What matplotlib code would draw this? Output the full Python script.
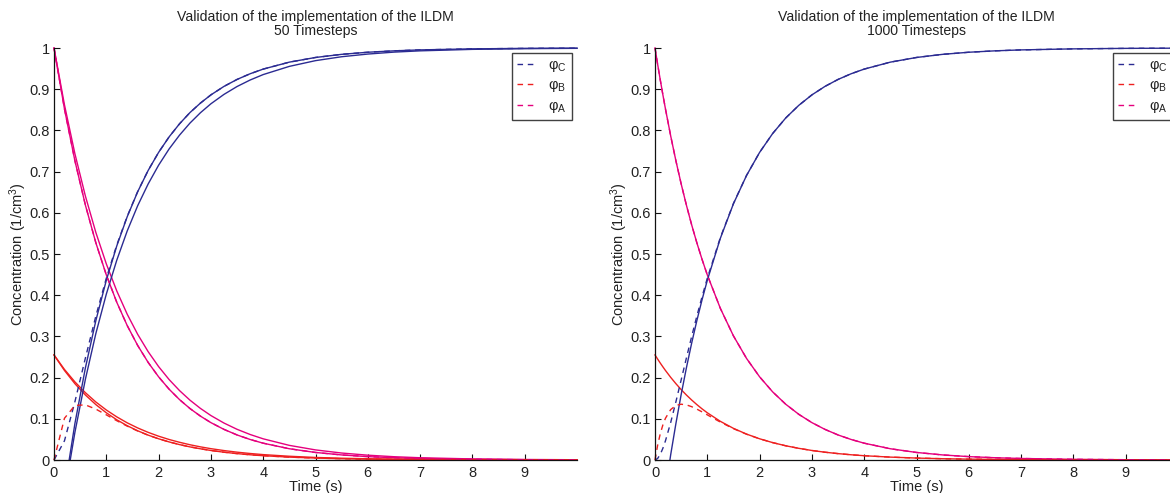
import matplotlib
matplotlib.use("Agg")
import matplotlib.pyplot as plt
from matplotlib.lines import Line2D

plt.rcParams['font.family'] = ['Liberation Sans', 'DejaVu Sans']
plt.rcParams['mathtext.default'] = 'regular'

# ---------------- data: 50 timesteps (left) ----------------
TL = [0, 0.2, 0.4, 0.6, 0.8, 1.0, 1.2, 1.4, 1.6, 1.8, 2.0, 2.2, 2.4, 2.6, 2.8, 3.0,
      3.25, 3.5, 3.75, 4.0, 4.5, 5, 5.5, 6, 6.5, 7, 8, 9, 10]
A1_L = [1, 0.8521, 0.7261, 0.6188, 0.5273, 0.4493, 0.3829, 0.3263, 0.2780, 0.2369, 0.2019,
        0.1720, 0.1466, 0.1249, 0.1065, 0.0907, 0.0743, 0.0608, 0.0498, 0.0408, 0.0273,
        0.0183, 0.0123, 0.0082, 0.0055, 0.0037, 0.0017, 0.0007, 0.0003]
A2_L = [1, 0.8621, 0.7432, 0.6407, 0.5523, 0.4761, 0.4104, 0.3538, 0.3050, 0.2630, 0.2267,
        0.1954, 0.1685, 0.1452, 0.1252, 0.1079, 0.0897, 0.0745, 0.0619, 0.0514, 0.0355,
        0.0245, 0.0169, 0.0117, 0.0080, 0.0055, 0.0026, 0.0013, 0.0006]
B1_L = [0.255, 0.2173, 0.1852, 0.1578, 0.1345, 0.1146, 0.0976, 0.0832, 0.0709, 0.0604, 0.0515,
        0.0439, 0.0374, 0.0318, 0.0272, 0.0231, 0.0189, 0.0155, 0.0127, 0.0104, 0.0070,
        0.0047, 0.0031, 0.0021, 0.0014, 0.0009, 0.0004, 0.0002, 0.0001]
B2_L = [0.255, 0.2198, 0.1895, 0.1634, 0.1408, 0.1214, 0.1047, 0.0902, 0.0778, 0.0671, 0.0578,
        0.0498, 0.0430, 0.0370, 0.0319, 0.0275, 0.0229, 0.0190, 0.0158, 0.0131, 0.0091,
        0.0062, 0.0043, 0.0030, 0.0020, 0.0014, 0.0007, 0.0003, 0.0002]
TC1_L = [0.29, 0.4, 0.6, 0.8, 1.0, 1.2, 1.4, 1.6, 1.8, 2.0, 2.2, 2.4, 2.6, 2.8, 3.0,
         3.25, 3.5, 3.75, 4.0, 4.5, 5, 5.5, 6, 6.5, 7, 8, 9, 10]
C1_L = [0, 0.0887, 0.2234, 0.3382, 0.4361, 0.5195, 0.5905, 0.6511, 0.7027, 0.7466, 0.7841,
        0.8160, 0.8433, 0.8663, 0.8862, 0.9068, 0.9237, 0.9375, 0.9488, 0.9657, 0.9770,
        0.9846, 0.9897, 0.9931, 0.9954, 0.9979, 0.9991, 0.9996]
TC2_L = [0.31, 0.4, 0.6, 0.8, 1.0, 1.2, 1.4, 1.6, 1.8, 2.0, 2.2, 2.4, 2.6, 2.8, 3.0,
         3.25, 3.5, 3.75, 4.0, 4.5, 5, 5.5, 6, 6.5, 7, 8, 9, 10]
C2_L = [0, 0.0673, 0.1959, 0.3069, 0.4025, 0.4849, 0.5560, 0.6172, 0.6699, 0.7155, 0.7548,
        0.7885, 0.8178, 0.8429, 0.8646, 0.8874, 0.9065, 0.9223, 0.9355, 0.9554, 0.9693,
        0.9788, 0.9853, 0.9900, 0.9931, 0.9967, 0.9984, 0.9992]
BX_L = [0, 0.1013, 0.1324, 0.1338, 0.1235, 0.1096, 0.0954, 0.0822, 0.0704, 0.0602, 0.0514,
        0.0439, 0.0374, 0.0318, 0.0272, 0.0231, 0.0189, 0.0155, 0.0127, 0.0104, 0.0070,
        0.0047, 0.0031, 0.0021, 0.0014, 0.0009, 0.0004, 0.0002, 0.0001]
CX_L = [0, 0.0466, 0.1415, 0.2474, 0.3492, 0.4411, 0.5217, 0.5915, 0.6516, 0.7029, 0.7467,
        0.7841, 0.8160, 0.8433, 0.8663, 0.8862, 0.9068, 0.9237, 0.9375, 0.9488, 0.9657,
        0.9770, 0.9846, 0.9897, 0.9931, 0.9954, 0.9979, 0.9991, 0.9996]

# ---------------- data: 1000 timesteps (right) ----------------
TR = [0, 0.05, 0.1, 0.15, 0.2, 0.3, 0.4, 0.5, 0.6, 0.7, 0.8, 0.9, 1.0, 1.25, 1.5, 1.75,
      2.0, 2.25, 2.5, 2.75, 3.0, 3.25, 3.5, 3.75, 4.0, 4.5, 5, 5.5, 6, 6.5, 7, 8, 9, 10]
A_R = [1, 0.9608, 0.9231, 0.8869, 0.8521, 0.7866, 0.7261, 0.6703, 0.6188, 0.5712, 0.5273,
       0.4868, 0.4493, 0.3679, 0.3012, 0.2466, 0.2019, 0.1653, 0.1353, 0.1108, 0.0907,
       0.0743, 0.0608, 0.0498, 0.0408, 0.0273, 0.0183, 0.0123, 0.0082, 0.0055, 0.0037,
       0.0017, 0.0007, 0.0003]
B_R = [0.255, 0.2450, 0.2354, 0.2262, 0.2173, 0.2006, 0.1852, 0.1709, 0.1578, 0.1457, 0.1345,
       0.1241, 0.1146, 0.0938, 0.0768, 0.0629, 0.0515, 0.0422, 0.0345, 0.0283, 0.0231,
       0.0189, 0.0155, 0.0127, 0.0104, 0.0070, 0.0047, 0.0031, 0.0021, 0.0014, 0.0009,
       0.0004, 0.0002, 0.0001]
TC_R = [0.285, 0.3, 0.4, 0.5, 0.6, 0.7, 0.8, 0.9, 1.0, 1.25, 1.5, 1.75, 2.0, 2.25, 2.5, 2.75,
        3.0, 3.25, 3.5, 3.75, 4.0, 4.5, 5, 5.5, 6, 6.5, 7, 8, 9, 10]
C_R = [0, 0.0128, 0.0887, 0.1588, 0.2234, 0.2831, 0.3382, 0.3891, 0.4361, 0.5383, 0.6220,
       0.6905, 0.7466, 0.7925, 0.8302, 0.8609, 0.8862, 0.9068, 0.9237, 0.9375, 0.9488,
       0.9657, 0.9770, 0.9846, 0.9897, 0.9931, 0.9954, 0.9979, 0.9991, 0.9996]
BX_R = [0, 0.0356, 0.0634, 0.0849, 0.1013, 0.1224, 0.1324, 0.1354, 0.1338, 0.1295, 0.1235,
        0.1168, 0.1096, 0.0920, 0.0761, 0.0626, 0.0514, 0.0422, 0.0345, 0.0283, 0.0231,
        0.0189, 0.0155, 0.0127, 0.0104, 0.0070, 0.0047, 0.0031, 0.0021, 0.0014, 0.0009,
        0.0004, 0.0002, 0.0001]
CX_R = [0, 0.0036, 0.0135, 0.0282, 0.0466, 0.0910, 0.1415, 0.1943, 0.2474, 0.2993, 0.3492,
        0.3964, 0.4411, 0.5401, 0.6227, 0.6908, 0.7467, 0.7925, 0.8302, 0.8609, 0.8862,
        0.9068, 0.9237, 0.9375, 0.9488, 0.9657, 0.9770, 0.9846, 0.9897, 0.9931, 0.9954,
        0.9979, 0.9991, 0.9996]

TITLE = "Validation of the implementation of the ILDM"
SUBTITLES = ["50 Timesteps", "1000 Timesteps"]
LEGEND_LABELS = ['φ$_{C}$', 'φ$_{B}$', 'φ$_{A}$']
XTICKS = list(range(10))
YTICKS = [0, 0.1, 0.2, 0.3, 0.4, 0.5, 0.6, 0.7, 0.8, 0.9, 1]
YTICKLABELS = ['0', '0.1', '0.2', '0.3', '0.4', '0.5', '0.6', '0.7', '0.8', '0.9', '1']

BLUE = '#2b2b92'
RED = '#ee2020'
MAG = '#e5007d'
TXT = '#222222'
LW = 1.0
DASH = (0, (4.0, 3.4))

W, H = 1170, 493
fig = plt.figure(figsize=(W / 100, H / 100), dpi=100)
ax_w = 523 / W
ax_h = (460 - 48) / H
axL = fig.add_axes([54 / W, 1 - 460 / H, ax_w, ax_h])
axR = fig.add_axes([655 / W, 1 - 460 / H, ax_w, ax_h])


def style(ax, sub):
    ax.set_xlim(0, 10)
    ax.set_ylim(0, 1)
    ax.set_xticks(XTICKS)
    ax.set_yticks(YTICKS)
    ax.set_yticklabels(YTICKLABELS)
    for s in ['top', 'right']:
        ax.spines[s].set_visible(False)
    for s in ['left', 'bottom']:
        ax.spines[s].set_color('#111111')
        ax.spines[s].set_linewidth(0.9)
    ax.tick_params(direction='in', length=4, width=0.8, colors='#111111',
                   labelsize=10.5, labelcolor=TXT)
    ax.tick_params(axis='x', pad=4)
    ax.tick_params(axis='y', pad=3)
    ax.set_xlabel('Time (s)', fontsize=10.5, color=TXT, labelpad=0)
    ax.set_ylabel('Concentration (1/cm$^3$)', fontsize=10.5, color=TXT, labelpad=0)
    ax.set_title(TITLE + '\n' + sub, fontsize=10.1, color=TXT, pad=9, linespacing=1.0)
    handles = [Line2D([], [], color=c, lw=LW, linestyle=DASH) for c in (BLUE, RED, MAG)]
    leg = ax.legend(handles, LEGEND_LABELS, loc='upper right',
                    bbox_to_anchor=(518 / 523, (460 - 53) / 412), borderaxespad=0,
                    fontsize=10.5, frameon=True, fancybox=False, handlelength=1.25,
                    handletextpad=0.9, labelspacing=0.3, borderpad=0.35)
    leg.get_frame().set_edgecolor('#111111')
    leg.get_frame().set_linewidth(1.0)
    for t in leg.get_texts():
        t.set_color(TXT)


# left
for x, y, c in [(TL, A1_L, MAG), (TL, A2_L, MAG), (TL, B1_L, RED), (TL, B2_L, RED),
                (TC1_L, C1_L, BLUE), (TC2_L, C2_L, BLUE)]:
    axL.plot(x, y, color=c, lw=LW, clip_on=False)
for y, c in [(CX_L, BLUE), (BX_L, RED), (A1_L, MAG)]:
    axL.plot(TL, y, color=c, lw=LW, linestyle=DASH, clip_on=False)
style(axL, SUBTITLES[0])

# right
for x, y, c in [(TR, A_R, MAG), (TR, B_R, RED), (TC_R, C_R, BLUE)]:
    axR.plot(x, y, color=c, lw=LW, clip_on=False)
for y, c in [(CX_R, BLUE), (BX_R, RED), (A_R, MAG)]:
    axR.plot(TR, y, color=c, lw=LW, linestyle=DASH, clip_on=False)
style(axR, SUBTITLES[1])

fig.savefig('out.png', dpi=100)
